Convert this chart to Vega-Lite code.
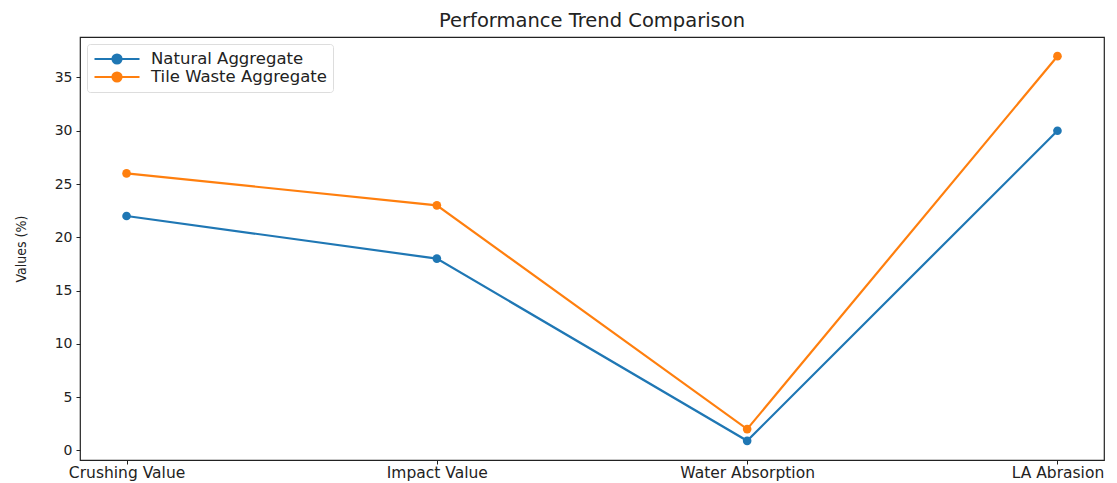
{
  "$schema": "https://vega.github.io/schema/vega-lite/v6.json",
  "width": 1024,
  "height": 423,
  "autosize": {"type": "none"},
  "padding": {"left": 80, "top": 37, "right": 13, "bottom": 23},
  "background": "white",
  "title": {"text": "Performance Trend Comparison", "font": "DejaVu Sans", "fontSize": 19.5, "fontWeight": "normal", "color": "#222", "offset": 6},
  "config": {
    "view": {"stroke": "#222", "strokeWidth": 1.2},
    "font": "DejaVu Sans"
  },
  "data": {"values": [
    {"category": "Crushing Value", "series": "Natural Aggregate", "value": 22},
    {"category": "Impact Value", "series": "Natural Aggregate", "value": 18},
    {"category": "Water Absorption", "series": "Natural Aggregate", "value": 0.9},
    {"category": "LA Abrasion", "series": "Natural Aggregate", "value": 30},
    {"category": "Crushing Value", "series": "Tile Waste Aggregate", "value": 26},
    {"category": "Impact Value", "series": "Tile Waste Aggregate", "value": 23},
    {"category": "Water Absorption", "series": "Tile Waste Aggregate", "value": 2},
    {"category": "LA Abrasion", "series": "Tile Waste Aggregate", "value": 37}
  ]},
  "encoding": {
    "x": {"field": "category", "type": "ordinal", "sort": null,
      "scale": {"type": "point", "padding": 0.15},
      "axis": {"title": null, "labelAngle": 0, "labelFontSize": 15.5, "labelColor": "#222", "tickColor": "#222", "tickSize": 4, "domain": false, "grid": false, "labelPadding": 1}},
    "y": {"field": "value", "type": "quantitative",
      "scale": {"domain": [-0.9, 38.8], "nice": false, "zero": false},
      "axis": {"title": "Values (%)", "titleFont": "DejaVu Sans Condensed", "titleFontSize": 14, "titleFontWeight": "normal", "titleColor": "#222", "titlePadding": 26, "values": [0,5,10,15,20,25,30,35], "labelFontSize": 14, "labelColor": "#222", "tickColor": "#222", "tickSize": 4, "domain": false, "grid": false, "labelPadding": 4}},
    "color": {"field": "series", "type": "nominal",
      "scale": {"domain": ["Natural Aggregate", "Tile Waste Aggregate"], "range": ["#1f77b4", "#ff7f0e"]},
      "legend": {"title": null, "orient": "top-left", "offset": 7, "labelFontSize": 16.5, "labelLimit": 500, "labelColor": "#222", "symbolType": "M-1,0L5,0M2.6,0A0.6,0.6 0 1,1 1.4,0A0.6,0.6 0 1,1 2.6,0Z", "symbolSize": 225, "symbolStrokeWidth": 2.2, "strokeColor": "#ddd", "cornerRadius": 3, "padding": 6, "fillColor": "white", "rowPadding": 0, "labelOffset": 40}}
  },
  "layer": [
    {"mark": {"type": "line", "strokeWidth": 2.2}},
    {"mark": {"type": "point", "filled": true, "size": 75, "opacity": 1}}
  ]
}
